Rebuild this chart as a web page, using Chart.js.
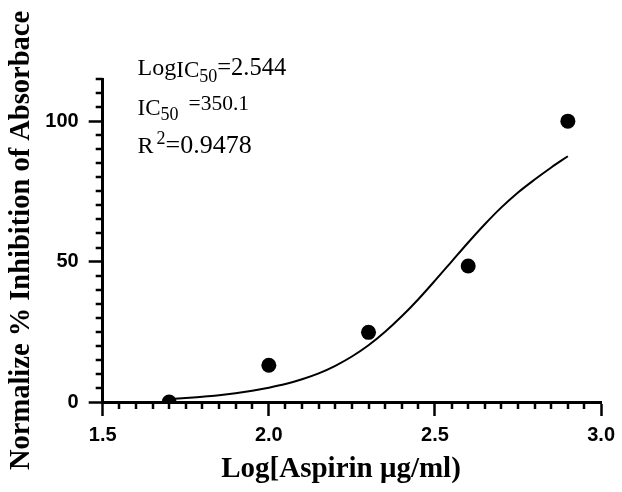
<!DOCTYPE html>
<html>
<head>
<meta charset="utf-8">
<script src="https://cdn.jsdelivr.net/npm/chart.js@4"></script>
<style>
  html, body { margin: 0; padding: 0; background: #fff; }
  #wrap { width: 622px; height: 492px; }
</style>
</head>
<body>
<div id="wrap"><canvas id="ic50Chart" width="622" height="492"></canvas></div>
<script>
// measured points
const logDose = [1.7, 2.0, 2.3, 2.6, 2.9];
const inhibition = [0, 13.1, 24.8, 48.4, 100];

// fitted curve
const fitX = [1.70, 1.75, 1.80, 1.85, 1.90, 1.95, 2.00, 2.05, 2.10, 2.15, 2.20, 2.25, 2.30,
              2.35, 2.40, 2.45, 2.50, 2.55, 2.60, 2.65, 2.70, 2.75, 2.80, 2.85, 2.90];
const fitY = [1.0, 1.4, 1.9, 2.4, 3.1, 4.0, 5.1, 6.4, 8.1, 10.2, 12.9, 16.2, 20.2,
              25.0, 30.5, 36.6, 43.2, 50.0, 56.8, 63.3, 69.3, 74.6, 79.2, 83.5, 87.5];

// axis ticks
const xMajorTicks = [1.5, 2.0, 2.5, 3.0];
const yMajorTicks = [0, 50, 100];

// fit results text
const statLines = [
  { main: 'Log', sub: 'IC', idx: '50', rest: '=2.544', restSize: 24.5, gap: 0, lift: 0 },
  { main: '', sub: 'IC', idx: '50', rest: '=350.1', restSize: 21.5, gap: 10, lift: 3 },
  { main: 'R', sup: '2', rest: '=0.9478', restSize: 26, gap: 0, lift: 0 }
];

function isMajor(list, v) {
  return list.some(m => Math.abs(m - v) < 1e-6);
}

// short minor ticks (chart.js only knows one tick length)
const minorTicks = {
  id: 'minorTicks',
  afterDraw(chart) {
    const ctx = chart.ctx;
    const xs = chart.scales.x, ys = chart.scales.y;
    ctx.save();
    ctx.strokeStyle = '#000';
    ctx.lineWidth = 2.5;
    ctx.beginPath();
    xs.ticks.forEach(t => {
      if (isMajor(xMajorTicks, t.value)) return;
      const px = Math.round(xs.getPixelForValue(t.value));
      ctx.moveTo(px, xs.top);
      ctx.lineTo(px, xs.top + 7);
    });
    ys.ticks.forEach(t => {
      if (isMajor(yMajorTicks, t.value)) return;
      const py = Math.round(ys.getPixelForValue(t.value));
      ctx.moveTo(ys.right, py);
      ctx.lineTo(ys.right - 7, py);
    });
    ctx.stroke();
    ctx.restore();
  }
};

// LogIC50 / IC50 / R2 block
const statText = {
  id: 'statText',
  afterDraw(chart) {
    const ctx = chart.ctx;
    const xs = chart.scales.x, ys = chart.scales.y;
    const x0 = xs.getPixelForValue(1.605);
    const baselines = [116.4, 102.8, 88.8];
    ctx.save();
    ctx.fillStyle = '#000';
    ctx.textBaseline = 'alphabetic';
    statLines.forEach((ln, i) => {
      let x = x0;
      const y = ys.getPixelForValue(baselines[i]);
      ctx.font = '24px "Liberation Serif"';
      if (ln.main) { ctx.fillText(ln.main, x, y); x += ctx.measureText(ln.main).width; }
      if (ln.sub) {
        ctx.font = '23px "Liberation Serif"';
        ctx.fillText(ln.sub, x, y + 2);
        x += ctx.measureText(ln.sub).width;
        ctx.font = '18px "Liberation Serif"';
        ctx.fillText(ln.idx, x, y + 7);
        x += ctx.measureText(ln.idx).width;
      }
      if (ln.sup) {
        ctx.font = '18px "Liberation Serif"';
        x += 3;
        ctx.fillText(ln.sup, x, y - 9);
        x += ctx.measureText(ln.sup).width;
      }
      x += ln.gap;
      ctx.font = ln.restSize + 'px "Liberation Serif"';
      ctx.fillText(ln.rest, x, y - ln.lift);
    });
    ctx.restore();
  }
};

const fitData = fitX.map((v, i) => ({ x: v, y: fitY[i] }));
const pointData = logDose.map((v, i) => ({ x: v, y: inhibition[i] }));

const config = {
  type: 'scatter',
  data: {
    datasets: [
      {
        label: 'fit',
        data: fitData,
        showLine: true,
        borderColor: '#000',
        borderWidth: 2,
        pointRadius: 0,
        cubicInterpolationMode: 'monotone',
        order: 2
      },
      {
        label: 'data',
        data: pointData,
        backgroundColor: '#000',
        borderWidth: 0,
        pointRadius: 7.5,
        order: 1
      }
    ]
  },
  options: {
    responsive: false,
    animation: false,
    layout: { padding: { left: 0, right: 14, top: 79, bottom: 0 } },
    plugins: {
      legend: { display: false },
      tooltip: { enabled: false }
    },
    scales: {
      x: {
        type: 'linear',
        min: 1.5,
        max: 3.0,
        afterFit: (s) => { s.height = 90; },
        border: { display: true, color: '#000', width: 3 },
        grid: {
          drawOnChartArea: false,
          drawTicks: true,
          tickLength: 14,
          tickWidth: 2.5,
          tickColor: (c) => isMajor(xMajorTicks, c.tick.value) ? '#000' : 'rgba(0,0,0,0)'
        },
        ticks: {
          stepSize: 0.05,
          autoSkip: false,
          maxRotation: 0,
          padding: 7,
          color: '#000',
          font: { family: '"Liberation Sans"', size: 20, weight: 'bold' },
          callback: (v) => isMajor(xMajorTicks, v) ? v.toFixed(1) : ''
        },
        title: {
          display: true,
          text: 'Log[Aspirin μg/ml)\u00a0\u00a0\u00a0',
          color: '#000',
          font: { family: '"Liberation Serif"', size: 29, weight: 'bold' },
          padding: { top: 0, bottom: 5 }
        }
      },
      y: {
        min: 0,
        max: 115,
        afterFit: (s) => { s.width = 102.7; },
        border: { display: true, color: '#000', width: 3 },
        grid: {
          drawOnChartArea: false,
          drawTicks: true,
          tickLength: 14,
          tickWidth: 2.5,
          tickColor: (c) => isMajor(yMajorTicks, c.tick.value) ? '#000' : 'rgba(0,0,0,0)'
        },
        ticks: {
          stepSize: 5,
          autoSkip: false,
          padding: 10,
          color: '#000',
          font: { family: '"Liberation Sans"', size: 20, weight: 'bold' },
          callback: (v) => isMajor(yMajorTicks, v) ? String(v) : ''
        },
        title: {
          display: true,
          text: 'Normalize % Inhibition of Absorbace',
          color: '#000',
          font: { family: '"Liberation Serif"', size: 28.5, weight: 'bold' },
          padding: { top: 5, bottom: 0 }
        }
      }
    }
  },
  plugins: [
    minorTicks,
    statText,
    {
      id: 'whiteBg',
      beforeDraw: (chart) => {
        const ctx = chart.ctx;
        ctx.save();
        ctx.fillStyle = '#fff';
        ctx.fillRect(0, 0, chart.width, chart.height);
        ctx.restore();
      }
    }
  ]
};

const ic50Chart = new Chart(document.getElementById('ic50Chart'), config);
</script>
</body>
</html>
